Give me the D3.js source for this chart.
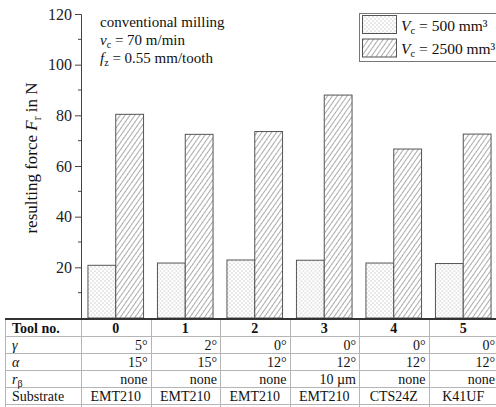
<!DOCTYPE html>
<html lang="en">
<head>
    <meta charset="UTF-8">
    <title>Resulting force per tool</title>
    <script src="https://d3js.org/d3.v7.min.js"></script>
    <style>
        body { margin: 0; background: #fff; }
        svg, svg text { font-family: "Liberation Serif", "Times New Roman", serif; }
        .tick text { font-size: 16px; fill: #222; }
        .cell { font-size: 14px; fill: #111; }
    </style>
</head>
<body>
    <script>
        // values
        const tools = ["0", "1", "2", "3", "4", "5"];
        const series = ["v500", "v2500"];
        const force500 = [20.8, 21.7, 22.9, 22.8, 21.7, 21.5];
        const force2500 = [80.4, 72.5, 73.6, 88.0, 66.7, 72.6];
        const yTicks = [20, 40, 60, 80, 100, 120];
        const gamma = ["5°", "2°", "0°", "0°", "0°", "0°"];
        const alpha = ["15°", "15°", "12°", "12°", "12°", "12°"];
        const rBeta = ["none", "none", "none", "10 µm", "none", "none"];
        const substrate = ["EMT210", "EMT210", "EMT210", "EMT210", "CTS24Z", "K41UF"];

        const width = 496, height = 407;
        const axisX = 81, plotTop = 14, plotBottom = 318;
        const serif = '"Liberation Serif", "Times New Roman", serif';

        const svg = d3.select("body").append("svg")
            .attr("width", width)
            .attr("height", height)
            .attr("font-family", serif);

        // patterns
        const defs = svg.append("defs");
        const dots = defs.append("pattern")
            .attr("id", "dots")
            .attr("patternUnits", "userSpaceOnUse")
            .attr("width", 4).attr("height", 4);
        dots.append("rect").attr("width", 4).attr("height", 4).attr("fill", "#fff");
        dots.append("circle").attr("cx", 1).attr("cy", 1).attr("r", 0.5).attr("fill", "#8a8a8a");
        dots.append("circle").attr("cx", 3).attr("cy", 3).attr("r", 0.5).attr("fill", "#8a8a8a");

        const hatch = defs.append("pattern")
            .attr("id", "hatch")
            .attr("patternUnits", "userSpaceOnUse")
            .attr("width", 4).attr("height", 4)
            .attr("patternTransform", "rotate(35)");
        hatch.append("rect").attr("width", 4).attr("height", 4).attr("fill", "#fff");
        hatch.append("line").attr("x1", 0).attr("y1", 0).attr("x2", 0).attr("y2", 4)
            .attr("stroke", "#444").attr("stroke-width", 0.9);

        const fills = { v500: "url(#dots)", v2500: "url(#hatch)" };

        // scales
        const x = d3.scaleBand()
            .domain(tools)
            .range([axisX, axisX + 6 * 69.5])
            .paddingInner(0.2)
            .paddingOuter(0.1);
        const xs = d3.scaleBand().domain(series).range([0, x.bandwidth()]);
        const y = d3.scaleLinear().domain([0, 120]).range([plotBottom, plotTop]);

        // y axis
        const yAxis = svg.append("g")
            .attr("transform", `translate(${axisX},0)`)
            .call(d3.axisLeft(y).tickValues(yTicks).tickSize(6).tickPadding(3));
        yAxis.attr("font-family", serif).attr("font-size", 16);
        yAxis.select(".domain").attr("stroke", "#444");
        yAxis.selectAll(".tick line").attr("stroke", "#444");
        svg.append("g")
            .attr("transform", `translate(${axisX},0)`)
            .selectAll("line")
            .data(d3.range(10, 120, 20))
            .join("line")
            .attr("x1", -3).attr("x2", 0)
            .attr("y1", d => y(d)).attr("y2", d => y(d))
            .attr("stroke", "#444");

        // y label
        const yl = svg.append("text")
            .attr("transform", "translate(37,158) rotate(-90)")
            .attr("text-anchor", "middle")
            .attr("font-size", 17)
            .attr("fill", "#111");
        yl.append("tspan").text("resulting force ");
        yl.append("tspan").attr("font-style", "italic").text("F");
        yl.append("tspan").attr("font-size", 11.5).attr("dy", 4).text("r");
        yl.append("tspan").attr("dy", -4).text(" in N");

        // bars
        const rows = tools.map((t, i) => ({ tool: t, v500: force500[i], v2500: force2500[i] }));
        svg.append("g")
            .selectAll("g")
            .data(rows)
            .join("g")
            .attr("transform", d => `translate(${x(d.tool)},0)`)
            .selectAll("rect")
            .data(d => series.map(s => ({ s, v: d[s] })))
            .join("rect")
            .attr("x", d => xs(d.s))
            .attr("width", xs.bandwidth())
            .attr("y", d => y(d.v))
            .attr("height", d => y(0) - y(d.v))
            .attr("fill", d => fills[d.s])
            .attr("stroke", "#555")
            .attr("stroke-width", 1);

        // process notes
        const note = svg.append("g").attr("font-size", 15).attr("fill", "#111");
        note.append("text").attr("x", 100).attr("y", 27).text("conventional milling");
        const n2 = note.append("text").attr("x", 100).attr("y", 45);
        n2.append("tspan").attr("font-style", "italic").text("v");
        n2.append("tspan").attr("font-size", 10).attr("dy", 3).text("c");
        n2.append("tspan").attr("dy", -3).text(" = 70 m/min");
        const n3 = note.append("text").attr("x", 100).attr("y", 63);
        n3.append("tspan").attr("font-style", "italic").text("f");
        n3.append("tspan").attr("font-size", 10).attr("dy", 3).text("z");
        n3.append("tspan").attr("dy", -3).text(" = 0.55 mm/tooth");

        // legend
        const legend = svg.append("g");
        legend.append("rect")
            .attr("x", 359.5).attr("y", 13.5).attr("width", 150).attr("height", 48)
            .attr("fill", "#fff").attr("stroke", "#777");
        const legendLabels = ["500", "2500"];
        series.forEach((s, i) => {
            const gy = 15.5 + i * 23.5;
            legend.append("rect")
                .attr("x", 362.5).attr("y", gy).attr("width", 34).attr("height", 18)
                .attr("fill", fills[s]).attr("stroke", "#555");
            const t = legend.append("text")
                .attr("x", 401).attr("y", gy + 15)
                .attr("font-size", 15.5).attr("fill", "#111");
            t.append("tspan").attr("font-style", "italic").text("V");
            t.append("tspan").attr("font-size", 10.5).attr("dy", 3).text("c");
            t.append("tspan").attr("dy", -3).text(` = ${legendLabels[i]} mm³`);
        });

        // table
        const table = svg.append("g");
        const rowTops = [319, 336, 353, 370, 387, 404];
        const tableRows = [
            { label: "Tool no.", values: tools, anchor: "middle", bold: true },
            { label: "γ", values: gamma, anchor: "end", italic: true },
            { label: "α", values: alpha, anchor: "end", italic: true },
            { label: "r", sub: "β", values: rBeta, anchor: "end", italic: true },
            { label: "Substrate", values: substrate, anchor: "middle" }
        ];
        const colLeft = t => x(t) - (x.step() - x.bandwidth()) / 2;

        // grid lines
        rowTops.slice(1).forEach(ry => {
            table.append("line")
                .attr("x1", 5).attr("x2", width).attr("y1", ry + 0.5).attr("y2", ry + 0.5)
                .attr("stroke", "#b5b5b5");
        });
        [5].concat(tools.map(colLeft)).forEach(cx => {
            table.append("line")
                .attr("x1", Math.round(cx) + 0.5).attr("x2", Math.round(cx) + 0.5)
                .attr("y1", rowTops[0]).attr("y2", height)
                .attr("stroke", "#b5b5b5");
        });
        table.append("line")
            .attr("x1", 5).attr("x2", width).attr("y1", 319).attr("y2", 319)
            .attr("stroke", "#333").attr("stroke-width", 2);

        tableRows.forEach((r, ri) => {
            const by = rowTops[ri] + 13.5;
            const lab = table.append("text")
                .attr("class", "cell")
                .attr("x", 12).attr("y", by)
                .attr("font-weight", r.bold ? "bold" : null);
            lab.append("tspan").attr("font-style", r.italic ? "italic" : null).text(r.label);
            if (r.sub) lab.append("tspan").attr("font-size", 10).attr("dy", 3).text(r.sub);

            table.selectAll(null)
                .data(r.values)
                .join("text")
                .attr("class", "cell")
                .attr("x", (d, i) => r.anchor === "end" ? colLeft(tools[i]) + x.step() - 3 : colLeft(tools[i]) + x.step() / 2)
                .attr("y", by)
                .attr("text-anchor", r.anchor)
                .attr("font-weight", r.bold ? "bold" : null)
                .text(d => d);
        });
    </script>
</body>
</html>
